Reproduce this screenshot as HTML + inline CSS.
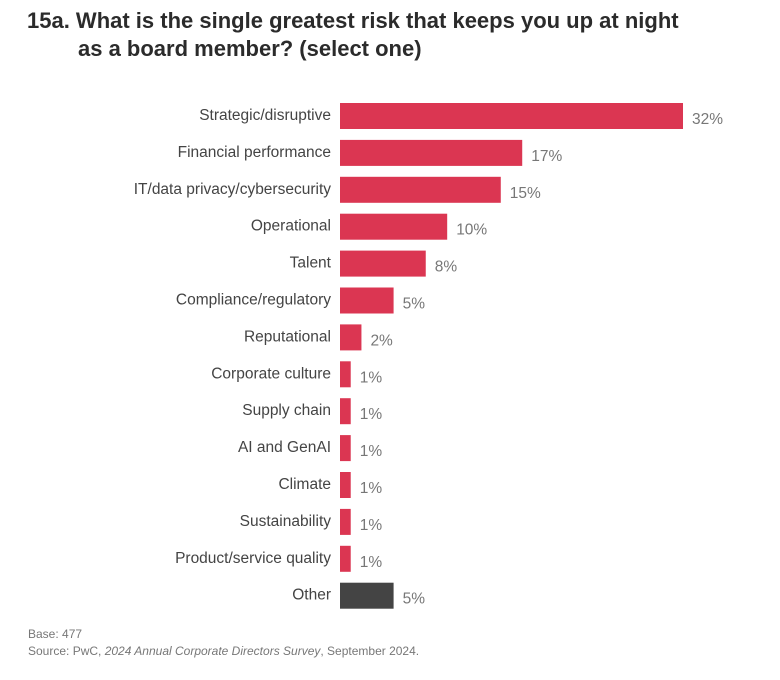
<!DOCTYPE html>
<html><head><meta charset="utf-8"><style>
body{margin:0;background:#fff;}
svg{display:block;font-family:"Liberation Sans",Arial,sans-serif;}
</style></head><body>
<svg width="780" height="680" viewBox="0 0 780 680">
<text x="27" y="28" font-size="22" font-weight="bold" fill="#2b2b2b">15a. What is the single greatest risk that keeps you up at night</text>
<text x="78" y="56" font-size="22" font-weight="bold" fill="#2b2b2b">as a board member? (select one)</text>
<g id="bars"></g>
<text x="28" y="638" font-size="12" fill="#777">Base: 477</text>
<text x="28" y="655" font-size="12" fill="#777">Source: PwC, <tspan font-style="italic">2024 Annual Corporate Directors Survey</tspan>, September 2024.</text>
</svg>
<script>
const categories = ["Strategic/disruptive","Financial performance","IT/data privacy/cybersecurity","Operational","Talent","Compliance/regulatory","Reputational","Corporate culture","Supply chain","AI and GenAI","Climate","Sustainability","Product/service quality","Other"];
const values = [32,17,15,10,8,5,2,1,1,1,1,1,1,5];
const valueLabels = ["32%","17%","15%","10%","8%","5%","2%","1%","1%","1%","1%","1%","1%","5%"];
const NS="http://www.w3.org/2000/svg";
const g=document.getElementById('bars');
const x0=340, pxPer=343/32, y0=116, step=36.9, bh=26;
const xs=v=>v*pxPer;
const yc=i=>y0+i*step;
categories.forEach((c,i)=>{
  const r=document.createElementNS(NS,'rect');
  
  
  r.setAttribute('x',x0);r.setAttribute('y',yc(i)-bh/2);
  r.setAttribute('width',xs(values[i]));r.setAttribute('height',bh);
  r.setAttribute('fill',c==="Other"?"#444444":"#db3652");
  g.appendChild(r);
  const t=document.createElementNS(NS,'text');
  
  
  t.setAttribute('x',331);t.setAttribute('y',yc(i)+4);
  t.setAttribute('text-anchor','end');t.setAttribute('font-size','15.5');t.setAttribute('fill','#444');
  t.textContent=c;g.appendChild(t);
  const v=document.createElementNS(NS,'text');
  
  
  v.setAttribute('x',x0+xs(values[i])+9);v.setAttribute('y',yc(i)+8);
  v.setAttribute('font-size','15.5');v.setAttribute('fill','#777');
  v.textContent=valueLabels[i];g.appendChild(v);
});
</script>
</body></html>
